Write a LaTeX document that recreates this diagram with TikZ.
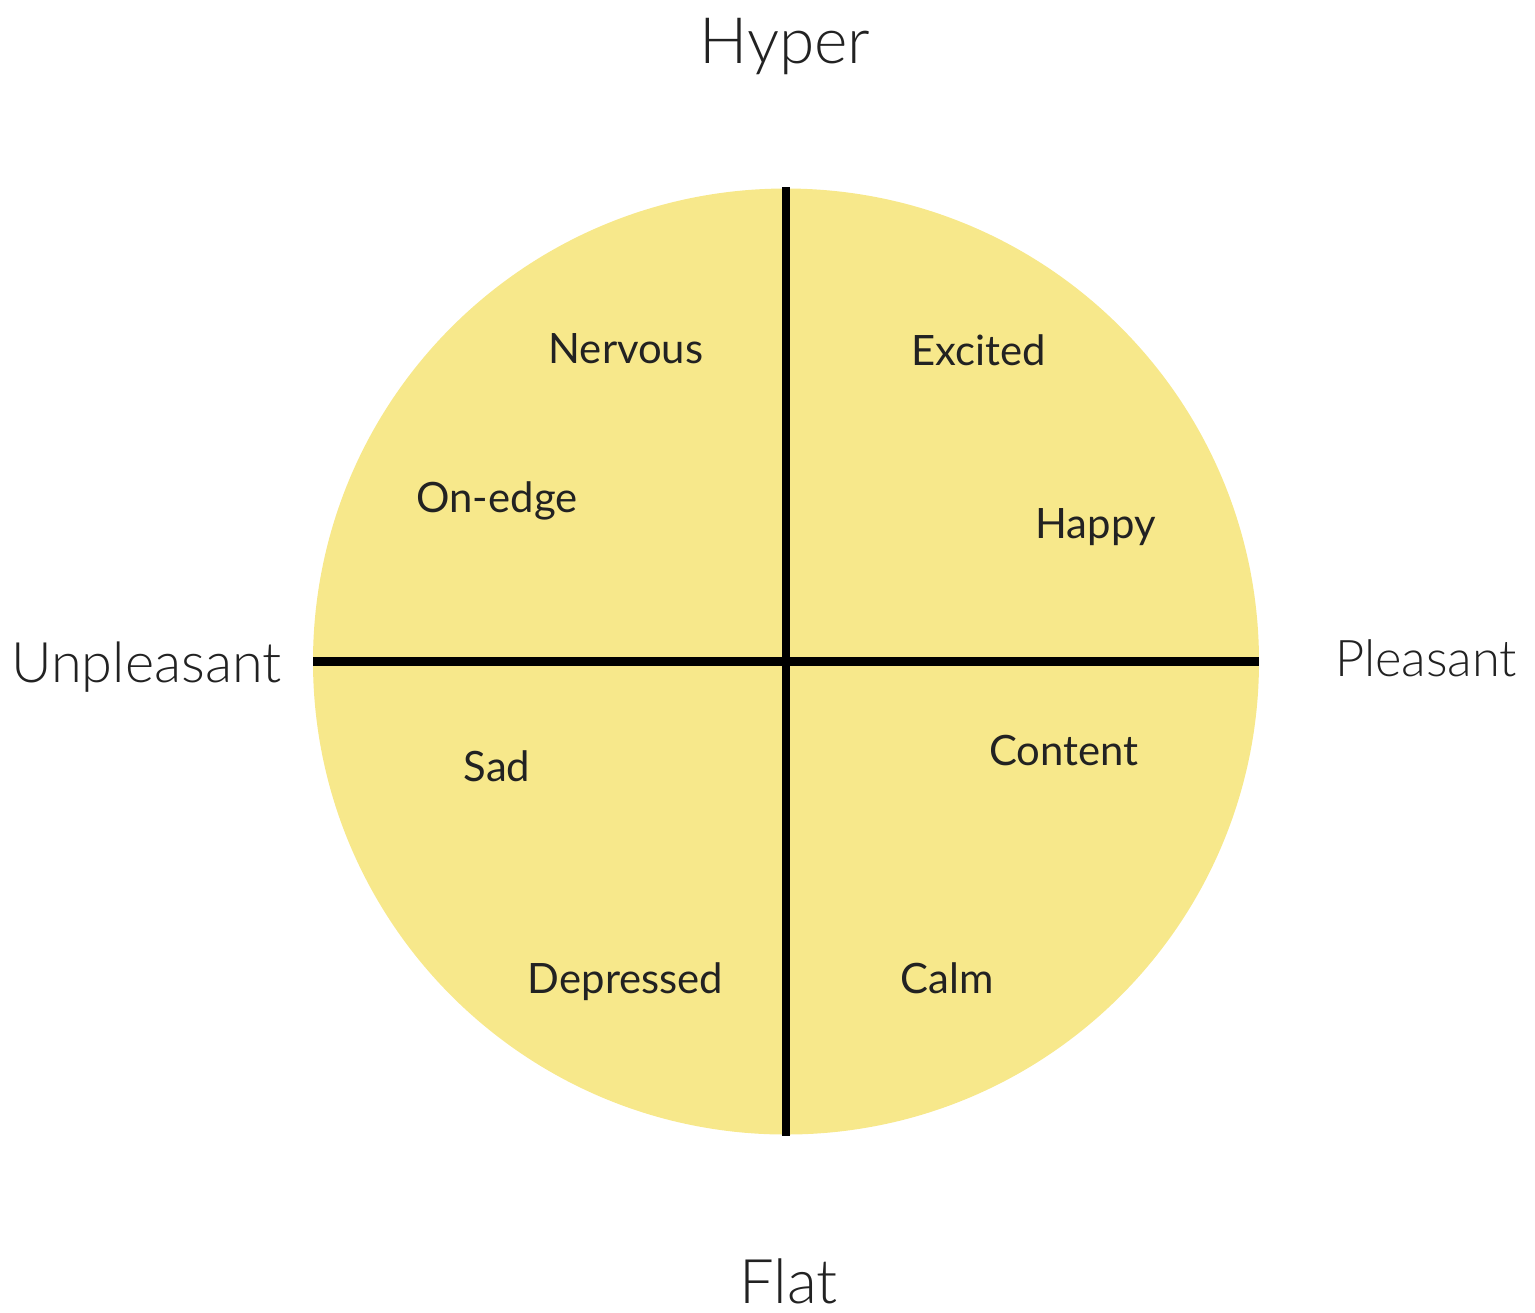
\documentclass[tikz,border=0pt]{standalone}
\usepackage{fontspec}
\setmainfont{Lato}
\newfontfamily\axisfont{Lato Light}
\definecolor{DiscClr}{RGB}{247,232,139}
\definecolor{TextClr}{RGB}{34,34,34}

\begin{document}
\begin{tikzpicture}[
  axislabel/.style={anchor=base,font=\axisfont,text=TextClr,inner sep=0pt},
  mood/.style={anchor=base,font=\fontsize{11.9}{14}\selectfont,text=TextClr,inner sep=0pt},
  axisline/.style={line width=2.3pt,black}]
\useasboundingbox (0,0) rectangle (15.35,-13.12);

\coordinate (O) at (7.86,-6.615);
\fill[DiscClr] (O) circle (4.73);

\coordinate (top) at (7.86,-1.87);
\coordinate (bottom) at (7.86,-11.36);
\coordinate (left) at (3.13,-6.615);
\coordinate (right) at (12.59,-6.615);

\draw[axisline] (top) -- (bottom);
\draw[axisline] (left) -- (right);

% axis ends
\node[axislabel,font=\axisfont\fontsize{18.2}{20}\selectfont] (hyper) at (7.85,-0.63) {Hyper};
\node[axislabel,font=\axisfont\fontsize{17.5}{20}\selectfont] (flat) at (7.885,-13.03) {Flat};
\node[axislabel,font=\axisfont\fontsize{15.9}{18}\selectfont] (unpleasant) at (1.465,-6.82) {Unpleasant};
\node[axislabel,font=\axisfont\fontsize{14.4}{16}\selectfont] (pleasant) at (14.26,-6.76) {Pleasant};

% moods
\node[mood] (nervous) at (6.26,-3.63) {Nervous};
\node[mood] (excited) at (9.785,-3.65) {Excited};
\node[mood] (onedge) at (4.97,-5.12) {On-edge};
\node[mood] (happy) at (10.955,-5.38) {Happy};
\node[mood] (sad) at (4.97,-7.81) {Sad};
\node[mood] (content) at (10.64,-7.65) {Content};
\node[mood] (depressed) at (6.255,-9.93) {Depressed};
\node[mood] (calm) at (9.47,-9.93) {Calm};

\end{tikzpicture}
\end{document}
